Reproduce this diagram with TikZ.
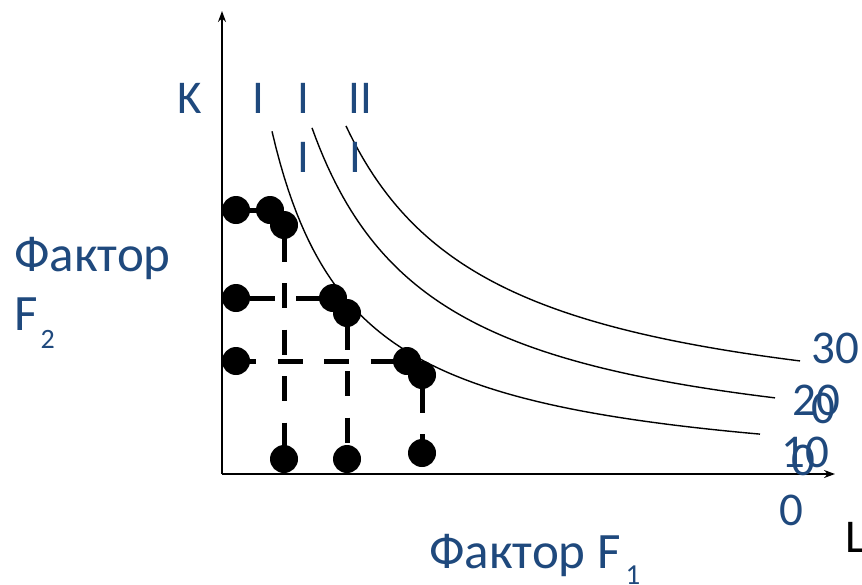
\documentclass[tikz,border=0pt]{standalone}
\usepackage{fontspec}
\setmainfont{Carlito}
\usetikzlibrary{arrows.meta}
\definecolor{txtblue}{HTML}{1F497D}
\begin{document}
\begin{tikzpicture}[x=1pt,y=-1pt,
 lbl/.style={text=txtblue,font=\fontsize{47}{52}\selectfont,inner sep=0pt,anchor=base west},
 big/.style={lbl,font=\fontsize{51}{56}\selectfont},
 clbl/.style={lbl,anchor=base},
 dot/.style={circle,fill=black,minimum size=28pt,inner sep=0pt},
 dline/.style={line width=5pt,dash pattern=on 25pt off 21.5pt},
 axis/.style={line width=1.8pt,-{Stealth[length=11pt,width=8pt]}},
 iso/.style={line width=1.4pt}]
\useasboundingbox (0,0) rectangle (862,584);
% axes
\coordinate (O) at (222,474);
\coordinate (Ytip) at (222,11);
\coordinate (Xtip) at (835,474);
\draw[axis] (O) -- (Ytip);
\draw[axis] (O) -- (Xtip);
% isoquants
\draw[iso] plot[domain=272:760,samples=120] (\x,{485-290/((\x-190)/100)});
\draw[iso] plot[domain=312:775,samples=120] (\x,{469-416.2/((\x-190)/100)});
\draw[iso] plot[domain=346:800,samples=120] (\x,{436.5-453.4/((\x-200)/100)});
% dot positions
\coordinate (a1) at (236,210);
\coordinate (a2) at (270,210);
\coordinate (a3) at (284,225);
\coordinate (b1) at (236,298);
\coordinate (b2) at (333,298);
\coordinate (b3) at (347,313);
\coordinate (c1) at (236,361);
\coordinate (c2) at (407,361);
\coordinate (c3) at (422,375);
\coordinate (d1) at (284,459);
\coordinate (d2) at (347,459);
\coordinate (d3) at (422,453);
% dashed lines
\draw[line width=5pt] (a1) -- (a2);
\draw[dline,dash phase=35pt] (a3) -- (d1);
\draw[dline,dash phase=33pt] (b1) -- (b2);
\draw[dline,dash phase=35pt] (b3) -- (d2);
\draw[dline,dash phase=5pt] (c1) -- (c2);
\draw[dline,dash phase=34pt] (c3) -- (d3);
% dots
\foreach \p in {a1,a2,a3,b1,b2,b3,c1,c2,c3,d1,d2,d3}
  \node[dot] (n\p) at (\p) {};
% labels
\node[clbl] (K) at (190,113) {K};
\node[clbl] (I1) at (258,113) {I};
\node[clbl] (I2a) at (303,113) {I};
\node[clbl] (I2b) at (303,172) {I};
\node[clbl] (I3a) at (360,113) {II};
\node[clbl] (I3b) at (355,172) {I};
\node[big] (fy) at (14,271) {Фактор};
\node[big] (f2) at (14,330) {F\hspace{3pt}\raisebox{-18pt}{\fontsize{28}{28}\selectfont 2}};
\node[big] (fx) at (429,568) {Фактор F\hspace{5pt}\raisebox{-16pt}{\fontsize{29}{29}\selectfont 1}};
\node[lbl,text=black] (L) at (845,552) {L};
\node[lbl] (v30) at (811,363) {30};
\node[lbl] (v20) at (792,415) {20};
\node[lbl] (v20b) at (811,423) {0};
\node[lbl] (v10) at (781,467) {10};
\node[lbl] (v10b) at (791,475) {0};
\node[lbl] (v0) at (779,525) {0};
\end{tikzpicture}
\end{document}
